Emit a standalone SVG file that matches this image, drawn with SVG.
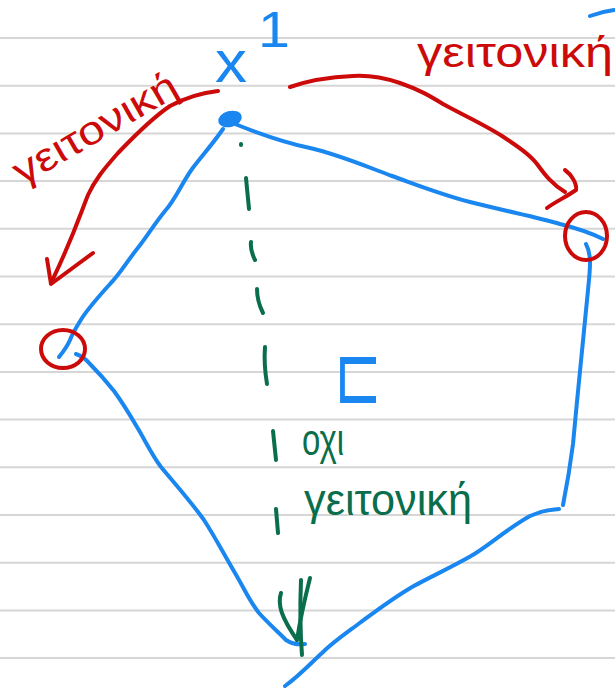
<svg xmlns="http://www.w3.org/2000/svg" width="615" height="693" viewBox="0 0 615 693">
<style>
.rule{stroke:#d6d6d6;stroke-width:2}
.blue{fill:none;stroke:#1a86f0;stroke-width:4;stroke-linecap:round;stroke-linejoin:round}
.red{fill:none;stroke:#cc0a0a;stroke-width:4;stroke-linecap:round;stroke-linejoin:round}
.green{fill:none;stroke:#0a6e4c;stroke-width:4;stroke-linecap:round;stroke-linejoin:round}
.t{font-family:"Liberation Sans",Arial,sans-serif}
.tr{fill:#cc0a0a}
.tg{fill:#0a6e4c}
.tb{fill:#1a86f0}
</style>
<rect width="615" height="693" fill="#ffffff"/>
<g id="paper">
<line class="rule" x1="0" y1="38" x2="615" y2="38"/>
<line class="rule" x1="0" y1="85.7" x2="615" y2="85.7"/>
<line class="rule" x1="0" y1="133.4" x2="615" y2="133.4"/>
<line class="rule" x1="0" y1="181.1" x2="615" y2="181.1"/>
<line class="rule" x1="0" y1="228.8" x2="615" y2="228.8"/>
<line class="rule" x1="0" y1="276.5" x2="615" y2="276.5"/>
<line class="rule" x1="0" y1="324.2" x2="615" y2="324.2"/>
<line class="rule" x1="0" y1="371.9" x2="615" y2="371.9"/>
<line class="rule" x1="0" y1="419.6" x2="615" y2="419.6"/>
<line class="rule" x1="0" y1="467.3" x2="615" y2="467.3"/>
<line class="rule" x1="0" y1="515" x2="615" y2="515"/>
<line class="rule" x1="0" y1="562.7" x2="615" y2="562.7"/>
<line class="rule" x1="0" y1="610.4" x2="615" y2="610.4"/>
<line class="rule" x1="0" y1="658.1" x2="615" y2="658.1"/>
</g>
<g id="polygon">
<path class="blue" d="M235,124 C260,134 282,142 310,148 C340,155 365,166 392,176 C420,186 440,194 470,202 C510,212 540,218 560,224 C580,229 595,235 603,239"/>
<path class="blue" d="M586,244 C592,255 590,270 588,290 C584,330 578,390 573,444 C569,475 565,495 563,505"/>
<path class="blue" d="M559,509 C552,510 545,509 530,516 C505,530 490,545 471,556 C450,568 430,577 412,587 C390,600 375,612 361,622 C345,634 333,642 322,653 C312,662 300,675 285,686"/>
<path class="blue" d="M223,129 C212,145 200,158 192,169 C182,183 175,200 165,211 C155,223 146,238 137,249 C128,260 120,274 110,284 C100,295 90,306 82,318 C77,326 72,334 70,340 C67,347 63,352 59,357"/>
<path class="blue" d="M76,354 C82,356 85,358 90,364 C100,374 106,381 114,391 C122,402 130,415 137,427 C146,442 152,455 161,467 C176,485 192,503 204,520 C215,537 225,556 235,573 C245,590 250,602 259,613 C267,622 278,632 286,640 C292,644 298,645 305,644"/>
<path class="blue" d="M590,16 C598,13 606,11 614,10"/>
</g>
<g id="vertex-x1">
<ellipse cx="230" cy="119" rx="12" ry="8" fill="#1a86f0" transform="rotate(-15 230 119)"/>
<text class="t tb" x="215" y="82" font-size="60" textLength="32" lengthAdjust="spacingAndGlyphs">x</text>
<text class="t tb" x="258" y="47" font-size="50" textLength="32" lengthAdjust="spacingAndGlyphs">1</text>
</g>
<g id="vertex-left">
<ellipse class="red" cx="63" cy="349" rx="22" ry="19"/>
</g>
<g id="vertex-right">
<ellipse class="red" cx="586" cy="236" rx="21" ry="24"/>
</g>
<g id="region-label">
<text class="t tb" x="334" y="403" font-size="80" textLength="48" lengthAdjust="spacingAndGlyphs">⊏</text>
</g>
<g id="connectors">
<path class="red" d="M218,91 C200,93 185,98 170,106 C155,116 140,130 118,153 C103,170 95,180 88,195 C80,215 72,240 51,283"/>
<path class="red" d="M47,259 L51,284 L93,253"/>
<path class="red" d="M290,87 C310,80 330,77 353,76 C370,75 385,78 400,83 C420,90 430,96 443,104 C465,116 485,125 502,136 C520,148 530,155 537,164 C545,175 552,184 565,192"/>
<path class="red" d="M565,170 C572,175 577,184 576,190 C566,197 555,202 547,208"/>
<g id="not-neighbor">
<path class="green" d="M241,144 L241,145"/>
<path class="green" d="M246,178 L249,209"/>
<path class="green" d="M251,242 C250,250 253,256 255,260"/>
<path class="green" d="M257,289 C257,300 260,307 263,313"/>
<path class="green" d="M265,347 C264,360 265,372 267,384"/>
<path class="green" d="M273,431 L276,460"/>
<path class="green" d="M276,509 L278,533"/>
<path class="green" d="M301,580 C300,605 300,630 302,655"/>
<path class="green" d="M281,593 C277,605 282,618 297,640"/>
<path class="green" d="M310,578 C305,598 300,620 297,640"/>
</g>
</g>
<g id="labels">
<text class="t tr" x="22" y="186" font-size="40" textLength="184" lengthAdjust="spacingAndGlyphs" transform="rotate(-30 22 186)">γειτονική</text>
<text class="t tr" x="417" y="67" font-size="42" textLength="196" lengthAdjust="spacingAndGlyphs">γειτονική</text>
<text class="t tg" x="302" y="455" font-size="44" textLength="42" lengthAdjust="spacingAndGlyphs">οχι</text>
<text class="t tg" x="304" y="515" font-size="44" textLength="168" lengthAdjust="spacingAndGlyphs">γειτονική</text>
</g>
</svg>
